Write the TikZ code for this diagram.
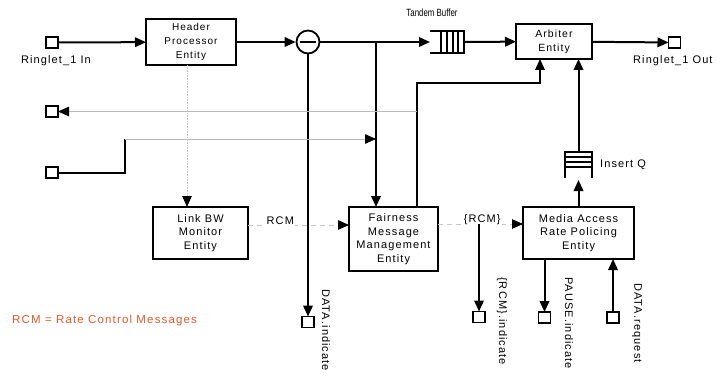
\documentclass[tikz,border=0pt]{standalone}
\usepackage{fontspec}
\setmainfont{Liberation Sans}[LetterSpace=10]
\newfontfamily\tbfont{Liberation Sans}
\usetikzlibrary{arrows.meta,positioning}

\definecolor{rcmred}{RGB}{224,88,44}

\tikzset{
  entity/.style={draw,line width=1.8pt,align=center,inner sep=0pt,outer sep=0pt,
    font=\fontsize{11}{13.5}\selectfont},
  port/.style={draw,line width=1.6pt,minimum width=12pt,minimum height=11pt,
    inner sep=0pt,outer sep=0pt},
  tip/.style={-{Triangle[length=11pt,width=9.5pt,color=black]}},
  flow/.style={line width=2pt},
  ctrl/.style={gray!55,line width=0.8pt},
  rcmline/.style={gray!45,line width=0.8pt,dash pattern=on 5pt off 4pt},
  bwline/.style={gray!45,line width=1pt,dash pattern=on 0.8pt off 0.8pt},
  vlabel/.style={rotate=-90,anchor=west,inner sep=0pt,font=\fontsize{11}{13}\selectfont},
  plabel/.style={inner sep=0pt,font=\fontsize{11}{13}\selectfont}
}

\begin{document}
\begin{tikzpicture}[x=1pt,y=-1pt]
  \useasboundingbox (0,0) rectangle (722,377);

  % entities
  \node[entity,minimum width=90pt,minimum height=46pt,font=\fontsize{10}{14}\selectfont]
    (hdr) at (191,42) {Header\\Processor\\Entity};
  \node[entity,minimum width=76pt,minimum height=35pt,font=\fontsize{10.5}{14}\selectfont]
    (arb) at (554,41.5) {Arbiter\\Entity};
  \node[entity,minimum width=95pt,minimum height=52pt] (lbw) at (200.5,233) {Link BW\\Monitor\\Entity};
  \node[entity,minimum width=89pt,minimum height=64pt] (fmm) at (393.5,239)
    {Fairness\\Message\\Management\\Entity};
  \node[entity,minimum width=111pt,minimum height=52pt] (mar) at (578.5,233)
    {Media Access\\Rate Policing\\Entity};

  % subtractor
  \node[circle,draw,line width=1.8pt,minimum size=23pt,inner sep=0pt] (sub) at (308,42) {};
  \draw[flow] ([xshift=4pt]sub.west) -- ([xshift=-4pt]sub.east);

  % ports
  \node[port] (in1) at (52,42.5) {};
  \node[port] (s2) at (52,111.5) {};
  \node[port] (s3) at (52,172.5) {};
  \node[port] (out1) at (674.5,42.5) {};
  \node[port] (di) at (308,322) {};
  \node[port] (ri) at (479,317) {};
  \node[port] (pi) at (544.5,317.5) {};
  \node[port] (dr) at (613,317.5) {};

  \node[plabel] (in1lbl) at (56,61) {Ringlet\_1 In};
  \node[plabel,anchor=west] (outlbl) at (633,61) {Ringlet\_1 Out};
  \node[vlabel] (dilbl) at (326,289) {DATA.indicate};
  \node[vlabel] (rilbl) at (502,277) {\{RCM\}.indicate};
  \node[vlabel] (pilbl) at (569,277) {PAUSE.indicate};
  \node[vlabel] (drlbl) at (637,283) {DATA.request};

  % tandem buffer
  \node[minimum width=34pt,minimum height=22pt,inner sep=0pt,outer sep=0pt] (tb) at (447,42) {};
  \draw[flow] (tb.north west) -- (tb.north east) -- (tb.south east) -- (tb.south west);
  \foreach \d in {11,17,23,28}
    \draw[flow] ([xshift=\d pt]tb.north west) -- ([xshift=\d pt]tb.south west);
  \node[inner sep=0pt,font=\tbfont\fontsize{10.5}{12}\selectfont]
    (tblbl) at (432,13) {\scalebox{0.75}[1]{Tandem Buffer}};

  % insert queue
  \node[minimum width=27pt,minimum height=26pt,inner sep=0pt,outer sep=0pt] (insq) at (578.5,165) {};
  \draw[flow] (insq.south west) -- (insq.north west) -- (insq.north east) -- (insq.south east);
  \foreach \d in {5,10,15}
    \draw[flow] ([yshift=-\d pt]insq.north west) -- ([yshift=-\d pt]insq.north east);
  \node[plabel,anchor=west] (insqlbl) at (600,165) {Insert Q};

  % ringlet data path
  \draw[flow,tip] (in1) -- (hdr);
  \draw[flow,tip] (hdr) -- (sub);
  \draw[flow,tip] (sub) -- (tb);
  \draw[flow,tip] (tb) -- (arb);
  \draw[flow,tip] (arb) -- (out1);
  \draw[flow,tip] (sub) -- (di);
  \coordinate (br) at (376,42);
  \draw[flow,tip] (br) -- (br |- fmm.north);
  \coordinate (fup) at ([xshift=-21pt]fmm.north east);
  \draw[flow,tip] (fup) |- ([xshift=-14pt,yshift=-24pt]arb.south) -- ([xshift=-14pt]arb.south);
  \draw[flow,tip] (insq.north) -- (insq.north |- arb.south);
  \draw[flow,tip] (mar.north) -- ([yshift=-2pt]insq.south);

  % control lines
  \draw[ctrl,tip] (fup |- s2.east) -- (s2.east);
  \coordinate (jog) at (125,139);
  \draw[flow] (s3.east) -| (jog);
  \draw[ctrl,tip] (jog) -- (jog -| br);
  \draw[bwline,tip] ([xshift=-4pt]hdr.south) -- ([xshift=-4pt]hdr.south |- lbw.north);

  % rate control messages
  \coordinate (rcmL) at ([yshift=8pt]lbw.east);
  \draw[rcmline,tip] (rcmL) -- (rcmL -| fmm.west)
    node[pos=0.32,fill=white,inner sep=1pt,yshift=4pt,text=black,font=\fontsize{11}{13}\selectfont] (rcmlbl) {RCM};
  \coordinate (rcmR) at ([yshift=15pt]fmm.east);
  \draw[rcmline,tip] (rcmR) -- (rcmR -| mar.west)
    node[pos=0.52,fill=white,inner sep=1pt,yshift=4pt,text=black,font=\fontsize{11}{13}\selectfont] (rcm2lbl) {\{RCM\}};
  \draw[flow,tip] (ri |- rcmR) -- (ri.north);
  \draw[flow,tip] (pi.north |- mar.south) -- (pi.north);
  \draw[flow,tip] (dr.north) -- (dr.north |- mar.south);

  \node[anchor=west,inner sep=0pt,text=rcmred,font=\fontsize{11.5}{13}\selectfont]
    (note) at (12,321) {RCM = Rate Control Messages};
\end{tikzpicture}
\end{document}
